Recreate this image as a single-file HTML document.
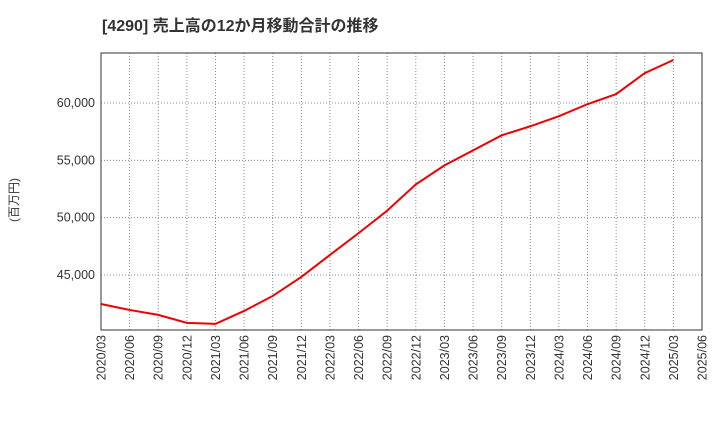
<!DOCTYPE html>
<html><head><meta charset="utf-8"><style>
body{margin:0;background:#fff;}
svg{display:block;font-family:"Liberation Sans","Noto Sans CJK JP",sans-serif;}
</style></head><body>
<svg id="chart" width="720" height="440">
<text x="102" y="31" font-size="16" font-weight="bold" fill="#333">[4290]  売上高の12か月移動合計の推移</text>
<text transform="translate(18,200) rotate(-90)" text-anchor="middle" font-size="12" fill="#333">(百万円)</text>
<g id="grid"></g><g id="axes"></g><g id="series"></g>
<rect x="101" y="53" width="601" height="277" fill="none" stroke="#333"/>
</svg>
<script>
const categories=["2020/03","2020/06","2020/09","2020/12","2021/03","2021/06","2021/09","2021/12","2022/03","2022/06","2022/09","2022/12","2023/03","2023/06","2023/09","2023/12","2024/03","2024/06","2024/09","2024/12","2025/03","2025/06"];
const values=[42470,41950,41520,40820,40730,41860,43170,44830,46750,48650,50610,52900,54560,55870,57180,57970,58850,59900,60780,62610,63750];
const yTicks=[45000,50000,55000,60000];
const yTickLabels=["45,000","50,000","55,000","60,000"];
const L=101,R=702,T=53,B=330,yMin=40200,yMax=64360;
const NS="http://www.w3.org/2000/svg";
const xs=i=>L+i*(R-L)/(categories.length-1);
const ys=v=>B-(v-yMin)/(yMax-yMin)*(B-T);
const grid=document.getElementById('grid'),axes=document.getElementById('axes'),ser=document.getElementById('series');
function mk(t,a,p){const e=document.createElementNS(NS,t);for(const k in a)e.setAttribute(k,a[k]);p.appendChild(e);return e;}
categories.forEach((c,i)=>{
const x=xs(i);
const g=mk('line',{x1:x,x2:x,y1:T,y2:B,stroke:'#888','stroke-dasharray':'1,2','stroke-width':1},grid);


const t=mk('text',{transform:`translate(${x+4.5},${B+5}) rotate(-90)`,'text-anchor':'end','font-size':12.5,fill:'#333'},axes);
t.textContent=c;


});
yTicks.forEach((v,i)=>{
const y=ys(v);
const g=mk('line',{x1:L,x2:R,y1:y,y2:y,stroke:'#888','stroke-dasharray':'1,2','stroke-width':1},grid);


const t=mk('text',{x:L-6,y:y+4,'text-anchor':'end','font-size':12.5,fill:'#333'},axes);
t.textContent=yTickLabels[i];


});
const p=mk('polyline',{points:values.map((v,i)=>xs(i)+','+ys(v)).join(' '),fill:'none',stroke:'#ee0000','stroke-width':2},ser);


</script>
</body></html>
